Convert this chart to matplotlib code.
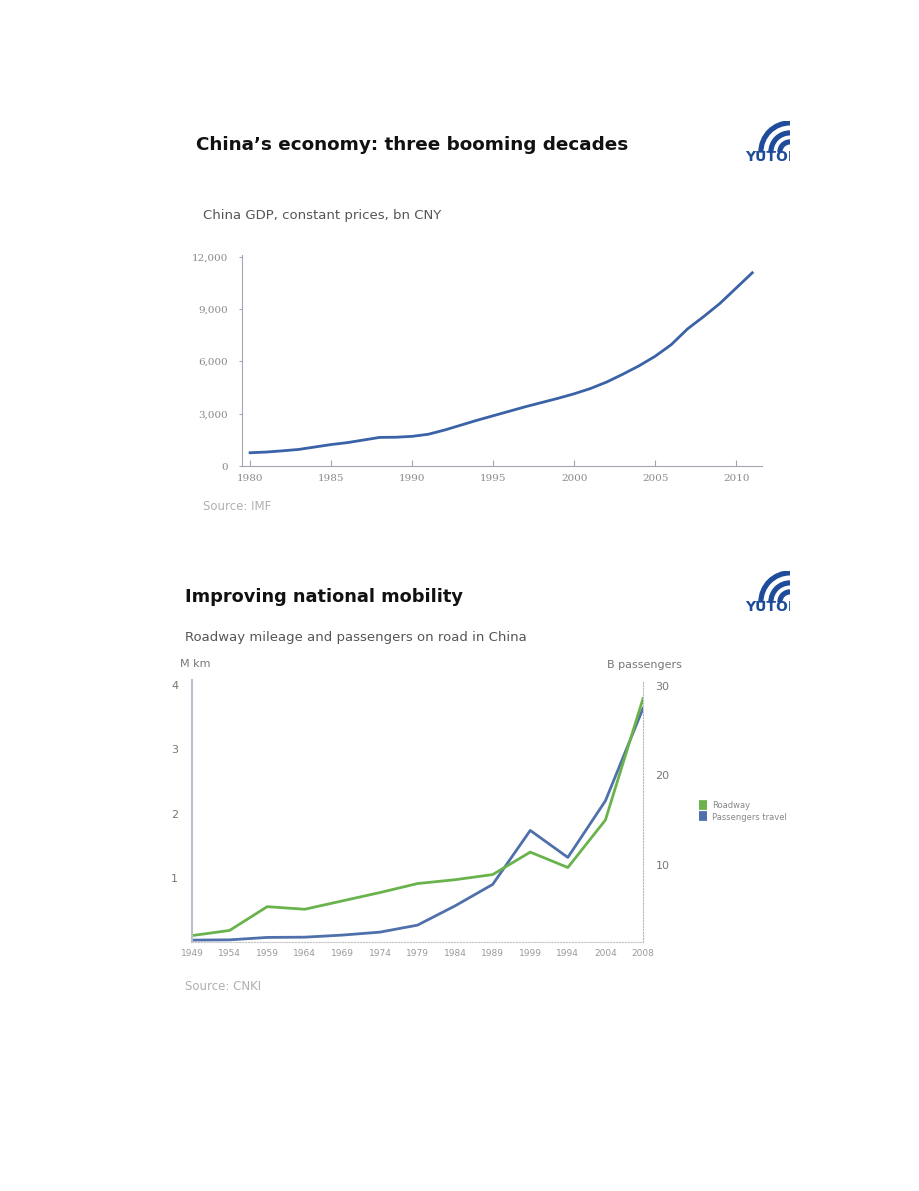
import numpy as np
import matplotlib.pyplot as plt
from matplotlib.patches import Wedge

# --- datos: PIB de China (precios constantes, bn CNY) ---
gdp_years = list(range(1980, 2012))
gdp_values = [760, 800, 870, 950, 1090, 1230, 1340, 1490, 1640, 1650,
              1700, 1820, 2060, 2340, 2620, 2880, 3140, 3400, 3640, 3880,
              4140, 4440, 4810, 5260, 5740, 6290, 6960, 7860, 8570, 9320,
              10200, 11080]
gdp_ticks = [0, 3000, 6000, 9000, 12000]
gdp_xticks = [1980, 1985, 1990, 1995, 2000, 2005, 2010]

# --- datos: carreteras y pasajeros ---
road_labels = ['1949', '1954', '1959', '1964', '1969', '1974', '1979',
               '1984', '1989', '1999', '1994', '2004', '2008']
roadway_mkm = [0.10, 0.18, 0.55, 0.51, 0.64, 0.77, 0.91, 0.97, 1.05,
               1.40, 1.16, 1.90, 3.79]
passengers_b = [1.64, 1.67, 1.94, 1.97, 2.2, 2.53, 3.31, 5.46, 7.85,
                13.87, 10.86, 17.17, 27.47]

W, H = 920, 1191


def rect(x0, y0, x1, y1):
    # pixeles (desde arriba) -> coordenadas de figura
    return [x0 / W, 1 - y1 / H, (x1 - x0) / W, (y1 - y0) / H]


def draw_logo(fig, x0, y0):
    # logo recortado en el borde derecho, como en la imagen original
    ax = fig.add_axes(rect(x0, y0, x0 + 50, y0 + 42))
    ax.set_xlim(0, 50)
    ax.set_ylim(42, 0)
    ax.axis('off')
    for r in [31, 21, 12]:
        ax.add_patch(Wedge((50, 31), r, 180, 360, width=3.8,
                           color='#1f4c9a', clip_on=True))
    ax.text(5, 40, 'YUTONG', fontsize=10, fontweight='heavy',
            color='#1f4c9a', va='baseline', ha='left', clip_on=True)


fig = plt.figure(figsize=(W / 100, H / 100), dpi=100)
fig.patch.set_facecolor('white')

# ---------------- Grafico 1: PIB ----------------
fig.text(196 / W, 1 - 145 / H, 'China\u2019s economy: three booming decades',
         fontsize=13.2, fontweight='bold', color='#111111', va='center')
fig.text(203 / W, 1 - 215 / H, 'China GDP, constant prices, bn CNY',
         fontsize=9.5, color='#555555', va='center')
fig.text(203 / W, 1 - 507 / H, 'Source: IMF',
         fontsize=8.5, color='#b0b0b0', va='center')
draw_logo(fig, 740, 121)

ax1 = fig.add_axes(rect(242, 255, 762, 466))
ax1.plot(gdp_years, gdp_values, color='#3a62a6', lw=2.0)
ax1.set_xlim(1979.5, 2011.6)
ax1.set_ylim(0, 12100)
ax1.set_yticks(gdp_ticks)
ax1.set_yticklabels([f'{v:,}' for v in gdp_ticks])
ax1.set_xticks(gdp_xticks)
for s in ['top', 'right']:
    ax1.spines[s].set_visible(False)
for s in ['left', 'bottom']:
    ax1.spines[s].set_color('#a8a3b3')
    ax1.spines[s].set_linewidth(0.8)
ax1.tick_params(axis='x', direction='in', length=4, color='#a8a3b3',
                labelsize=7.5, labelcolor='#8a8a8a', pad=6)
ax1.tick_params(axis='y', direction='out', length=2, color='#a8a3b3',
                labelsize=7.5, labelcolor='#8a8a8a', pad=8)
for lab in ax1.get_xticklabels() + ax1.get_yticklabels():
    lab.set_family('DejaVu Serif')

# ---------------- Grafico 2: movilidad ----------------
fig.text(185 / W, 1 - 597 / H, 'Improving national mobility',
         fontsize=12.8, fontweight='bold', color='#111111', va='center')
fig.text(185 / W, 1 - 637 / H, 'Roadway mileage and passengers on road in China',
         fontsize=9.5, color='#555555', va='center')
fig.text(185 / W, 1 - 986 / H, 'Source: CNKI',
         fontsize=8.5, color='#b0b0b0', va='center')
fig.text(180 / W, 1 - 664 / H, 'M km', fontsize=8, color='#777777', va='center')
fig.text(607 / W, 1 - 665 / H, 'B passengers', fontsize=8, color='#777777',
         va='center')
draw_logo(fig, 740, 571)

ax2 = fig.add_axes(rect(192, 680, 643, 942))
xs = np.arange(len(road_labels))
l1, = ax2.plot(xs, roadway_mkm, color='#6ab34c', lw=2.0, label='Roadway')
ax2.set_xlim(0, len(road_labels) - 1)
ax2.set_ylim(0, 4.08)
ax2.set_yticks([1, 2, 3, 4])
ax2.set_xticks(xs)
ax2.set_xticklabels(road_labels)

ax3 = ax2.twinx()
l2, = ax3.plot(xs, passengers_b, color='#4f70aa', lw=2.0,
               label='Passengers travel')
ax3.set_ylim(1.43, 30.64)
ax3.set_yticks([10, 20, 30])
ax2.set_zorder(ax3.get_zorder() + 1)
ax2.patch.set_visible(False)

for a in (ax2, ax3):
    a.spines['top'].set_visible(False)
ax2.spines['left'].set_color('#b9bfcc')
ax2.spines['left'].set_linewidth(1.5)
ax2.spines['right'].set_visible(False)
ax3.spines['left'].set_visible(False)
ax3.spines['right'].set_color('#b8b8b8')
ax3.spines['right'].set_linestyle(':')
ax3.spines['bottom'].set_visible(False)
ax2.spines['bottom'].set_color('#c4c4c4')
ax2.spines['bottom'].set_linestyle(':')
ax2.tick_params(axis='x', length=0, labelsize=6.5, labelcolor='#999999', pad=5)
ax2.tick_params(axis='y', length=0, labelsize=8, labelcolor='#777777', pad=10)
ax3.tick_params(axis='y', length=0, labelsize=8, labelcolor='#777777', pad=9)

fig.legend(handles=[l1, l2], loc='upper left',
           bbox_to_anchor=(695 / W, 1 - 797 / H), frameon=False,
           fontsize=6, labelcolor='#888888', handlelength=1.0,
           handleheight=1.0, handletextpad=0.5, borderpad=0, labelspacing=0.3)
# cuadrados de color en la leyenda
leg = fig.legends[0]
for h, c in zip(leg.legend_handles, ['#6ab34c', '#4f70aa']):
    h.set_linewidth(7)
    h.set_solid_capstyle('butt')

fig.savefig('out.png', dpi=100, facecolor='white')
